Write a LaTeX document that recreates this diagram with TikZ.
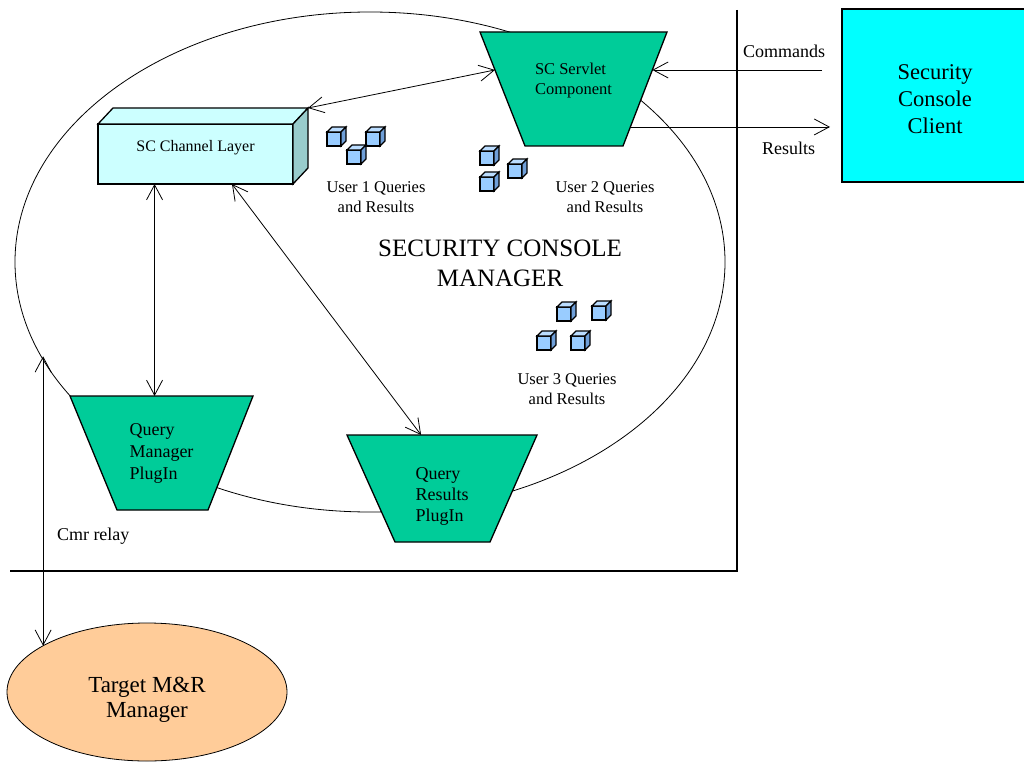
\documentclass[tikz,border=0pt]{standalone}
\usepackage{fontspec}
\setmainfont{Liberation Serif}
\usetikzlibrary{shapes.geometric,arrows.meta,calc}
\definecolor{tgreen}{HTML}{00CC99}
\definecolor{ccyan}{HTML}{00FFFF}
\definecolor{lcyan}{HTML}{CCFFFF}
\definecolor{scyan}{HTML}{99CCCC}
\definecolor{torange}{HTML}{FFCC99}
\definecolor{cubefront}{HTML}{99CCFF}
\definecolor{cubetop}{HTML}{BBDDFF}
\definecolor{cubeside}{HTML}{6F9FD8}
\newcommand{\mlines}[2]{\begin{tabular}{@{}#1@{}}#2\end{tabular}}
\pgfdeclarelayer{back}
\pgfdeclarelayer{mid}
\pgfsetlayers{back,mid,main}
\begin{document}
\begin{tikzpicture}[x=1pt,y=-1pt,
  line width=0.8pt,
  every node/.style={inner sep=0pt, outer sep=0pt},
  biarrow/.style={draw, line width=0.8pt, {Straight Barb[length=15pt,width=16pt]}-{Straight Barb[length=15pt,width=16pt]}},
  onearrow/.style={draw, line width=0.8pt, -{Straight Barb[length=15pt,width=16pt]}},
  trapbox/.style={rectangle},
  trapline/.style={line width=1.3pt, fill=tgreen},
  lbl/.style={font=\fontsize{16.5}{20}\selectfont, align=center},
  smalllbl/.style={font=\fontsize{18}{20}\selectfont, anchor=base west},
  cube/.pic={
    \draw[line width=1.1pt, fill=cubefront] (0,0) rectangle (14,14);
    \draw[line width=1.1pt, fill=cubetop] (0,0) -- (5,-5) -- (19,-5) -- (14,0) -- cycle;
    \draw[line width=1.1pt, fill=cubeside] (14,0) -- (19,-5) -- (19,9) -- (14,14) -- cycle;
  },
]
\useasboundingbox (0,0) rectangle (1024,762);

% big manager ellipse (behind everything)
\begin{pgfonlayer}{back}
\node[draw, ellipse, minimum width=710pt, minimum height=500pt, line width=0.8pt] (mgr) at (370,262) {};
\end{pgfonlayer}

% boundary lines
\coordinate (boxtop) at (737,10);
\coordinate (boxcorner) at (737,571);
\coordinate (boxleft) at (10,571);
\draw[line width=1.3pt] (boxtop) -- (boxcorner) -- (boxleft);

% client
\node[draw, line width=1.3pt, fill=ccyan, minimum width=186pt, minimum height=173pt,
      font=\fontsize{22.5}{27}\selectfont] (client) at (935,95.5)
      {\raisebox{-6pt}[\height][\depth]{\mlines{c}{Security\\Console\\Client}}};

% servlet (trapezoid)
\node[trapbox, minimum width=187pt, minimum height=114pt, font=\fontsize{16.5}{20}\selectfont] (serv) at (573.5,89)
      {\raisebox{8pt}[\height][\depth]{\mlines{l}{SC Servlet\\Component}}};
\coordinate (servBL) at ([xshift=45pt]serv.south west);
\coordinate (servBR) at ([xshift=-44pt]serv.south east);

% channel layer (3D box)
\node[draw, line width=1.3pt, fill=lcyan, minimum width=195pt, minimum height=60pt,
      font=\fontsize{16}{18}\selectfont] (cl) at (195.5,154) {\raisebox{6pt}[\height][\depth]{SC Channel Layer}};
\coordinate (clbtr) at ([shift={(15,-16)}]cl.north east);
\draw[line width=1.3pt, fill=lcyan] (cl.north west) -- ++(15,-16) -- (clbtr) -- (cl.north east) -- cycle;
\draw[line width=1.3pt, fill=scyan] (cl.north east) -- (clbtr) -- ++(0,60) -- (cl.south east) -- cycle;

% plugins (trapezoids)
\node[trapbox, minimum width=183pt, minimum height=114pt, font=\fontsize{18}{22}\selectfont] (qm) at (161.5,453)
      {\mlines{l}{Query\\Manager\\PlugIn}};
\coordinate (qmBL) at ([xshift=47pt]qm.south west);
\coordinate (qmBR) at ([xshift=-45pt]qm.south east);
\node[trapbox, minimum width=190pt, minimum height=107pt, font=\fontsize{18}{21}\selectfont] (qr) at (442,488.5)
      {\raisebox{-8pt}[\height][\depth]{\mlines{l}{Query\\Results\\PlugIn}}};
\coordinate (qrBL) at ([xshift=48pt]qr.south west);
\coordinate (qrBR) at ([xshift=-47pt]qr.south east);

\begin{pgfonlayer}{mid}
\draw[trapline] (serv.north west) -- (serv.north east) -- (servBR) -- (servBL) -- cycle;
\draw[trapline] (qm.north west) -- (qm.north east) -- (qmBR) -- (qmBL) -- cycle;
\draw[trapline] (qr.north west) -- (qr.north east) -- (qrBR) -- (qrBL) -- cycle;
\end{pgfonlayer}

% target
\node[draw, ellipse, fill=torange, minimum width=280pt, minimum height=138pt, line width=0.8pt,
      font=\fontsize{23}{25}\selectfont] (tgt) at (147,692)
      {\raisebox{-8pt}[\height][\depth]{\mlines{c}{Target M\&R\\Manager}}};

% cubes
\pic at (327,132) {cube};
\pic at (366,132) {cube};
\pic at (347,150) {cube};
\pic at (480,151) {cube};
\pic at (508,164) {cube};
\pic at (480,177) {cube};
\pic at (557,307) {cube};
\pic at (592,306) {cube};
\pic at (537,336) {cube};
\pic at (571,336) {cube};

% labels
\node[lbl] (u1) at (376,197) {User 1 Queries\\and Results};
\node[lbl] (u2) at (605,197) {User 2 Queries\\and Results};
\node[lbl] (u3) at (567,389) {User 3 Queries\\and Results};
\node[font=\fontsize{25}{30}\selectfont, align=center] (title) at (500,263.7) {SECURITY CONSOLE\\MANAGER};
\node[smalllbl] (cmd) at (743,58) {Commands};
\node[smalllbl] (res) at (762,155) {Results};
\node[smalllbl] (relay) at (57,540) {Cmr relay};

% connectors
\coordinate (sl) at ($(serv.north west)!0.333!(servBL)$);
\draw[biarrow] (clbtr) -- (sl);
\coordinate (srtop) at ($(serv.north east)!0.333!(servBR)$);
\coordinate (cmdend) at (822,70);
\draw[onearrow] (cmdend |- srtop) -- (srtop);
\coordinate (srbot) at ($(serv.north east)!0.833!(servBR)$);
\coordinate (resend) at (830,127);
\draw[onearrow] (srbot) -- (srbot -| resend);
\coordinate (clq) at ($(cl.south west)!0.29!(cl.south east)$);
\draw[biarrow] (clq) -- (clq |- qm.north);
\draw[biarrow] ($(cl.south west)!0.687!(cl.south east)$) -- ($(qr.north west)!0.39!(qr.north east)$);
\draw[biarrow] (tgt.156.3 |- mgr.196.3) -- (tgt.156.3);
\end{tikzpicture}
\end{document}
